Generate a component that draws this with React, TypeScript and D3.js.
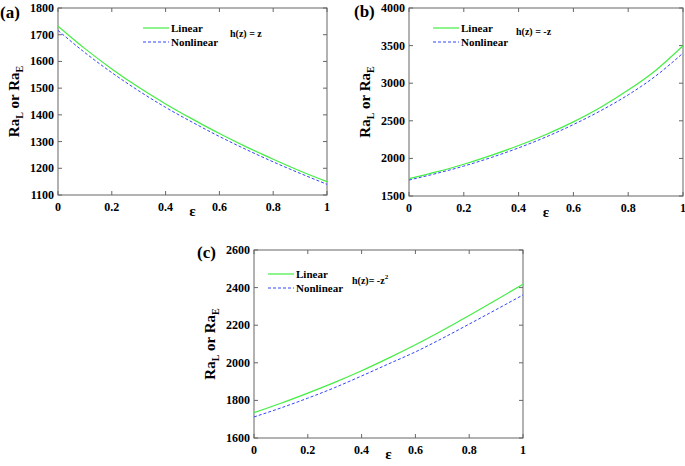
import React from "react";
import * as d3 from "d3";

const eps = [0, 0.1, 0.2, 0.3, 0.4, 0.5, 0.6, 0.7, 0.8, 0.9, 1.0];

const linearA = [1732, 1648, 1572, 1503, 1441, 1384, 1330, 1280, 1234, 1190, 1150];
const nonlinearA = [1716, 1633, 1558, 1490, 1428, 1372, 1319, 1270, 1224, 1181, 1140];

const linearB = [1730, 1820, 1922, 2040, 2171, 2318, 2486, 2680, 2908, 3170, 3498];
const nonlinearB = [1712, 1800, 1898, 2012, 2140, 2285, 2450, 2635, 2845, 3095, 3400];

const linearC = [1735, 1785, 1839, 1896, 1958, 2025, 2096, 2172, 2252, 2334, 2418];
const nonlinearC = [1712, 1760, 1812, 1868, 1930, 1994, 2058, 2130, 2206, 2283, 2361];

const xTicks = [0, 0.2, 0.4, 0.6, 0.8, 1];
const yTicksA = [1100, 1200, 1300, 1400, 1500, 1600, 1700, 1800];
const yTicksB = [1500, 2000, 2500, 3000, 3500, 4000];
const yTicksC = [1600, 1800, 2000, 2200, 2400, 2600];

const FONT = "Liberation Serif, Times New Roman, Times, DejaVu Serif, serif";
const GREEN = "#44ee44";
const BLUE = "#3344ff";

type PanelProps = {
  left: number; top: number; right: number; bottom: number;
  yDomain: [number, number]; yTicks: number[];
  lin: number[]; non: number[];
  label: string; labelX: number; labelY: number;
  legX: number; legY: number;
  hx: number; hy: number; hText: React.ReactNode;
  ylabX: number;
};

function Panel(p: PanelProps) {
  const x = d3.scaleLinear().domain([0, 1]).range([p.left, p.right]);
  const y = d3.scaleLinear().domain(p.yDomain).range([p.bottom, p.top]);
  const line = d3.line<number>().x((_, i) => x(eps[i])).y((d) => y(d)).curve(d3.curveMonotoneX);
  const tl = 4;
  const axisColor = "#666";
  const cy = (p.top + p.bottom) / 2;
  const cx = (p.left + p.right) / 2;
  return (
    <g style={{ fontFamily: FONT }} fontWeight="bold">
      <rect x={p.left} y={p.top} width={p.right - p.left} height={p.bottom - p.top} fill="white" stroke={axisColor} strokeWidth={1} />
      {xTicks.map((t) => (
        <g key={"x" + t}>
          <line x1={x(t)} x2={x(t)} y1={p.bottom} y2={p.bottom - tl} stroke={axisColor} />
          <line x1={x(t)} x2={x(t)} y1={p.top} y2={p.top + tl} stroke={axisColor} />
          <text x={x(t)} y={p.bottom + 16} fontSize={12} textAnchor="middle" fill="#000">{String(t)}</text>
        </g>
      ))}
      {p.yTicks.map((t) => (
        <g key={"y" + t}>
          <line x1={p.left} x2={p.left + tl} y1={y(t)} y2={y(t)} stroke={axisColor} />
          <line x1={p.right} x2={p.right - tl} y1={y(t)} y2={y(t)} stroke={axisColor} />
          <text x={p.left - 4} y={y(t) + 4} fontSize={12} textAnchor="end" fill="#000">{String(t)}</text>
        </g>
      ))}
      <path d={line(p.lin) || ""} fill="none" stroke={GREEN} strokeWidth={1.2} />
      <path d={line(p.non) || ""} fill="none" stroke={BLUE} strokeWidth={1} strokeDasharray="3,2" />
      <line x1={p.legX} x2={p.legX + 26} y1={p.legY} y2={p.legY} stroke={GREEN} strokeWidth={1.2} />
      <text x={p.legX + 28} y={p.legY + 4} fontSize={11} fill="#000">Linear</text>
      <line x1={p.legX} x2={p.legX + 26} y1={p.legY + 14} y2={p.legY + 14} stroke={BLUE} strokeWidth={1} strokeDasharray="3,2" />
      <text x={p.legX + 28} y={p.legY + 18} fontSize={11} fill="#000">Nonlinear</text>
      <text x={p.hx} y={p.hy} fontSize={10} fill="#000">{p.hText}</text>
      <text x={cx} y={p.bottom + 21} fontSize={15} textAnchor="middle" fill="#000">ε</text>
      <text transform={`translate(${p.ylabX},${cy}) rotate(-90)`} fontSize={15} textAnchor="middle" fill="#000">
        Ra<tspan fontSize={10} dy={4}>L</tspan><tspan dy={-4}> or Ra</tspan><tspan fontSize={10} dy={4}>E</tspan>
      </text>
      <text x={p.labelX} y={p.labelY} fontSize={17} fill="#000">{p.label}</text>
    </g>
  );
}

export default function App() {
  return (
    <svg width={685} height={466} style={{ position: "absolute", left: 0, top: 0, background: "white" }}>
      <Panel left={58} top={8} right={327} bottom={195} yDomain={[1100, 1800]} yTicks={yTicksA}
        lin={linearA} non={nonlinearA} label="(a)" labelX={0} labelY={18}
        legX={143} legY={28} hx={230} hy={37} hText="h(z) = z" ylabX={19} />
      <Panel left={409} top={8} right={683} bottom={196} yDomain={[1500, 4000]} yTicks={yTicksB}
        lin={linearB} non={nonlinearB} label="(b)" labelX={354} labelY={17}
        legX={433} legY={28} hx={516} hy={35} hText="h(z) = -z" ylabX={370} />
      <Panel left={254} top={250} right={523} bottom={438} yDomain={[1600, 2600]} yTicks={yTicksC}
        lin={linearC} non={nonlinearC} label="(c)" labelX={197} labelY={258}
        legX={268} legY={274} hx={352} hy={284}
        hText={<>h(z)= -z<tspan fontSize={7} dy={-5}>2</tspan></>} ylabX={215} />
    </svg>
  );
}
